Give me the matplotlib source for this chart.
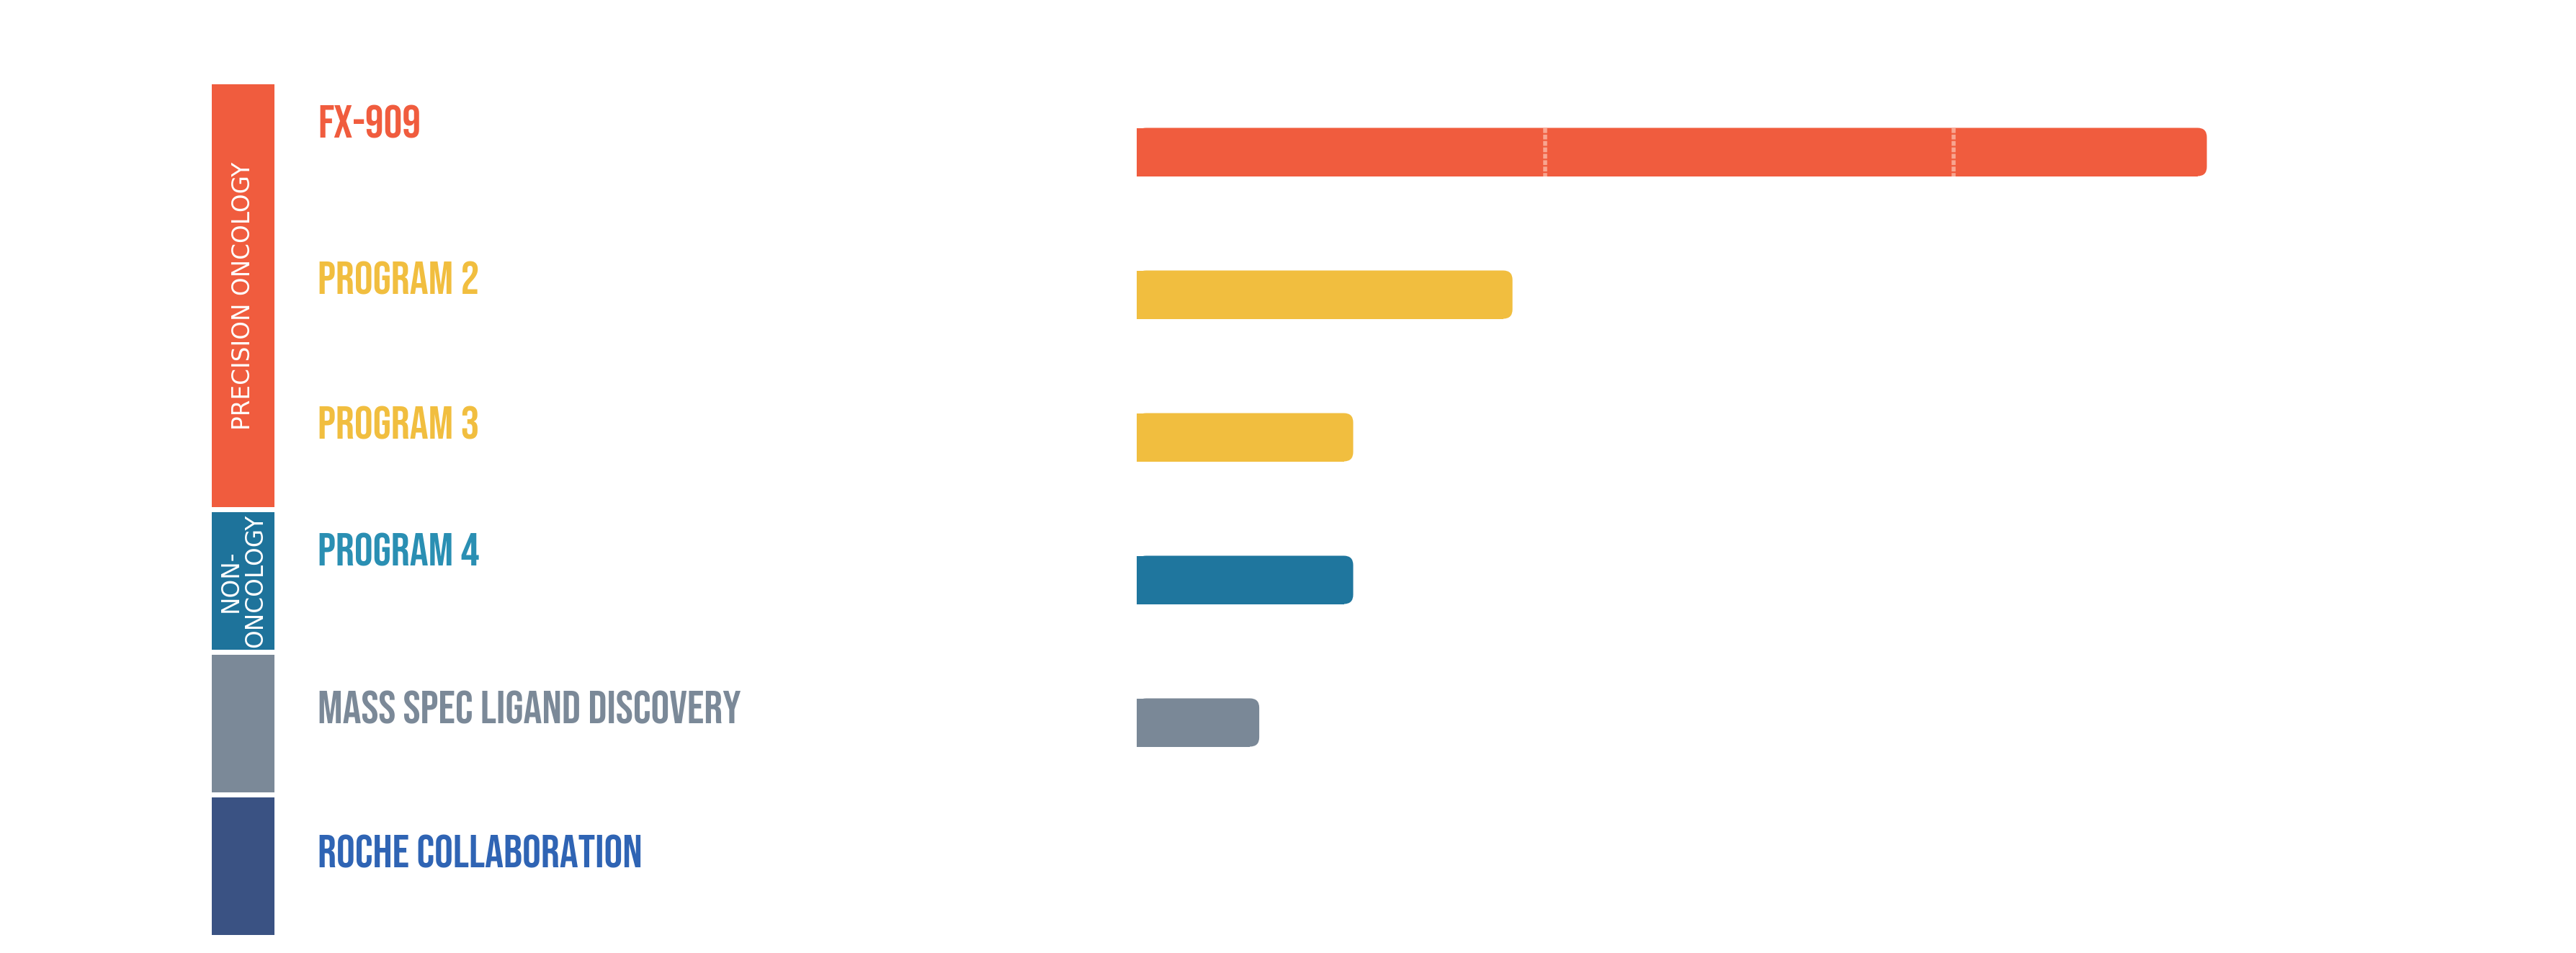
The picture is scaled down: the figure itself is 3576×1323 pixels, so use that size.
import matplotlib
matplotlib.use("Agg")
import matplotlib.pyplot as plt
from matplotlib.patches import FancyBboxPatch
from matplotlib import transforms, font_manager
import numpy as np

# pipeline data (bar length in phase units)
programs = ["FX-909", "PROGRAM 2", "PROGRAM 3", "PROGRAM 4",
            "MASS SPEC LIGAND DISCOVERY", "ROCHE COLLABORATION"]
progress = [2.62, 0.92, 0.53, 0.53, 0.30, 0.0]

groups = ["PRECISION ONCOLOGY", "NON-\nONCOLOGY", "", ""]
group_rows = [3, 1, 1, 1]

# styles
bar_colors = ["#F05C3E", "#F1BE3F", "#F1BE3F", "#1F769E", "#7A8897", "#3A5283"]
label_colors = ["#F05C3E", "#F1BE3F", "#F1BE3F", "#2A8FB3", "#7B8998", "#2F64B4"]
group_colors = ["#F05C3E", "#1E739B", "#7B8998", "#3A5283"]
label_dy = [-0.10, -0.005, 0.015, -0.096, 0.01, 0.02]

installed = {f.name for f in font_manager.fontManager.ttflist}


def pick(cands):
    for c in cands:
        if c in installed:
            return c
    return "DejaVu Sans"


label_font = pick(["Bebas Neue", "Oswald", "Fira Sans Extra Condensed",
                   "Fira Sans Condensed", "Roboto Condensed", "Liberation Sans Narrow"])
label_weight = "normal" if label_font == "Bebas Neue" else "bold"

W, H = 3576, 1323
PHASE_PX = 567
ROW_PX = 198
TOP = 112

fig = plt.figure(figsize=(W / 100, H / 100), dpi=100)
fig.patch.set_facecolor("white")

n = len(programs)
ax_h = n * ROW_PX
ax = fig.add_axes([1578 / W, 1 - (TOP + ax_h) / H, (W - 1578) / W, ax_h / H])
ax.set_xlim(0, (W - 1578) / PHASE_PX)
ax.set_ylim(n - 0.5, -0.5)
ax.axis("off")

side = fig.add_axes([294 / W, 1 - (TOP + ax_h) / H, 87 / W, ax_h / H])
side.set_xlim(0, 1)
side.set_ylim(n - 0.5, -0.5)
side.axis("off")

# bars
bar_h = 67 / ROW_PX
r = 13 / PHASE_PX
aspect = PHASE_PX / ROW_PX
for i, (v, c) in enumerate(zip(progress, bar_colors)):
    if v <= 0:
        continue
    ax.barh(i, v - r, left=0, height=bar_h, color=c, linewidth=0)
    ax.add_patch(FancyBboxPatch((0, i - bar_h / 2), v, bar_h,
                                boxstyle="round,pad=0,rounding_size=%f" % r,
                                mutation_aspect=aspect, facecolor=c, linewidth=0))
    # phase boundaries inside the bar
    for b in range(1, int(np.ceil(v))):
        ax.vlines(b, i - bar_h / 2, i + bar_h / 2, color="#F8A590", lw=4,
                  linestyles=(0, (1.2, 0.4)))

# group column
start = 0
for g, span, c in zip(groups, group_rows, group_colors):
    y0 = start - 0.5 + 0.025
    y1 = start + span - 0.5 - 0.01
    side.bar(0.5, y1 - y0, bottom=y0, width=1, color=c, linewidth=0)
    if g:
        side.text(0.5, (y0 + y1) / 2, g, rotation=90, ha="center", va="center",
                  color="white", fontsize=23.5, family="DejaVu Sans",
                  multialignment="center", linespacing=1.05)
    start += span

# program labels
trans = transforms.blended_transform_factory(fig.transFigure, ax.transData)
labels = []
for i, (p, c) in enumerate(zip(programs, label_colors)):
    t = ax.text(441 / W, i + label_dy[i], p, transform=trans, ha="left",
                va="baseline", color=c, fontsize=40, fontweight=label_weight,
                family=[label_font, "DejaVu Sans"], clip_on=False)
    labels.append(t)

# fit label size so "ROCHE COLLABORATION" is ~450 px wide as in the source
renderer = fig.canvas.get_renderer()
w = labels[-1].get_window_extent(renderer).width
size = 40 * 450 / w
for t in labels:
    t.set_fontsize(size)

fig.savefig("out.png", dpi=100)
